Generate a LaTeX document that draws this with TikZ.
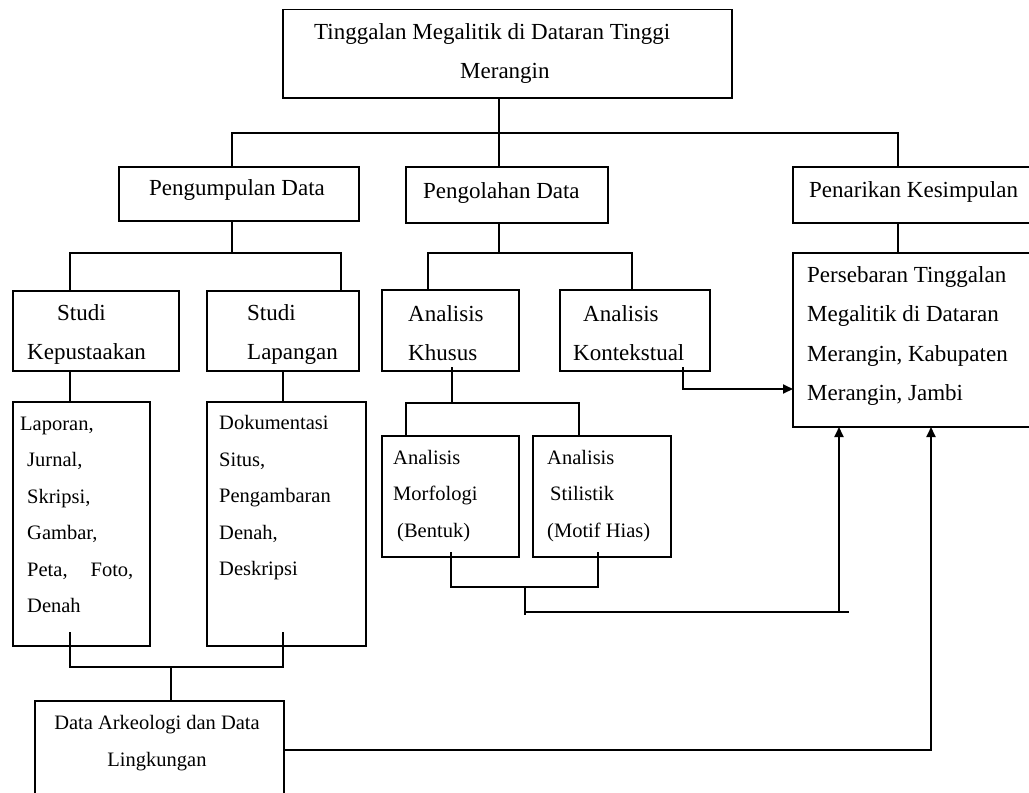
\documentclass[tikz,border=0pt]{standalone}
\usepackage{fontspec}
\setmainfont{Liberation Serif}
\usetikzlibrary{arrows.meta,calc}
\tikzset{
  box/.style={draw, line width=1.8pt, inner sep=0pt, outer sep=0pt, anchor=north west},
  conn/.style={line width=1.8pt},
  arr/.style={line width=1.8pt, -{Triangle[length=10pt,width=9pt]}},
  txt/.style={inner sep=0pt, anchor=north west, align=left, font=\fontsize{23}{39.5}\selectfont},
  smalltxt/.style={inner sep=0pt, anchor=north west, align=left, font=\fontsize{20.5}{36.5}\selectfont},
}
\begin{document}
\begin{tikzpicture}[x=1pt,y=-1pt]
\clip (0,0) rectangle (1029,793);
\fill[white] (0,0) rectangle (1029,793);

% boxes
\node[box, minimum width=449pt, minimum height=88.5pt] (top) at (283,9.5) {};
\node[box, minimum width=240pt, minimum height=54pt] (pd) at (119,167) {};
\node[box, minimum width=202pt, minimum height=56pt] (po) at (406,167) {};
\node[box, minimum width=252pt, minimum height=56pt] (pk) at (793,167) {};
\node[box, minimum width=252pt, minimum height=174pt] (ps) at (793,253) {};
\node[box, minimum width=166pt, minimum height=80pt] (sk) at (13,291) {};
\node[box, minimum width=152pt, minimum height=80pt] (sl) at (207,291) {};
\node[box, minimum width=137pt, minimum height=81pt] (ak) at (382,290) {};
\node[box, minimum width=150pt, minimum height=81pt] (ax) at (560,290) {};
\node[box, minimum width=137pt, minimum height=244pt] (lp) at (13,402) {};
\node[box, minimum width=159pt, minimum height=244pt] (dk) at (207,402) {};
\node[box, minimum width=137pt, minimum height=121pt] (am) at (382,436) {};
\node[box, minimum width=138pt, minimum height=121pt] (as) at (533,436) {};
\node[box, minimum width=249pt, minimum height=119pt] (da) at (35,701) {};

% texts
\node[txt] (t-top) at (314,11.35) {\strut Tinggalan Megalitik di Dataran Tinggi\\\hspace*{146pt}Merangin};
\node[txt] (t-pd) at (149,167.35) {\strut Pengumpulan Data};
\node[txt] (t-po) at (423,170.35) {\strut Pengolahan Data};
\node[txt] (t-pk) at (809,169.35) {\strut Penarikan Kesimpulan};
\node[txt] (t-ps) at (807,254.35) {\strut Persebaran Tinggalan\\Megalitik di Dataran\\Merangin, Kabupaten\\Merangin, Jambi};
\node[txt] (t-sk) at (27,292.35) {\strut\hspace*{30pt}Studi\\Kepustaakan};
\node[txt] (t-sl) at (247,292.35) {\strut Studi\\Lapangan};
\node[txt] (t-ak) at (408,293.35) {\strut Analisis\\Khusus};
\node[txt] (t-ax) at (573,293.35) {\strut\hspace*{10pt}Analisis\\Kontekstual};
\node[smalltxt] (t-lp) at (20,404.45) {\strut Laporan,\\\hspace*{7pt}Jurnal,\\\hspace*{7pt}Skripsi,\\\hspace*{7pt}Gambar,\\\hspace*{7pt}Peta,\hspace{23pt}Foto,\\\hspace*{7pt}Denah};
\node[smalltxt] (t-dk) at (219,404) {\strut Dokumentasi\\Situs,\\Pengambaran\\Denah,\\Deskripsi};
\node[smalltxt] (t-am) at (393,438.45) {\strut Analisis\\Morfologi\\\hspace*{4pt}(Bentuk)};
\node[smalltxt] (t-as) at (547,438.45) {\strut Analisis\\\hspace*{3pt}Stilistik\\(Motif Hias)};
\node[smalltxt, anchor=north, align=center, font=\fontsize{20.5}{37}\selectfont] (t-da) at (157,703.1) {\strut Data Arkeologi dan Data\\Lingkungan};

% junction coordinates
\coordinate (b1) at (499,133);
\coordinate (bL) at (232,133);
\coordinate (bR) at (898,133);
\coordinate (c1) at (232,253);
\coordinate (c2) at (70,253);
\coordinate (c3) at (341,253);
\coordinate (d1) at (499,253);
\coordinate (d2) at (428,253);
\coordinate (d3) at (632,253);
\coordinate (e1) at (898,240);
\coordinate (f1) at (70,390);
\coordinate (f2) at (283,390);
\coordinate (g2) at (70,667);
\coordinate (g3) at (283,667);
\coordinate (h1) at (171,667);
\coordinate (i1) at (452,403);
\coordinate (i2) at (406,403);
\coordinate (i3) at (579,403);
\coordinate (k1) at (451,587);
\coordinate (k2) at (598,587);
\coordinate (m1) at (525,587);
\coordinate (m2) at (525,612);
\coordinate (m3) at (849,612);
\coordinate (m4) at (839,612);
\coordinate (n1) at (683,389);
\coordinate (p1) at (931,750);

% connectors
\draw[conn] (top.south -| b1) -- (po.north -| b1);
\draw[conn] (pd.north -| bL) -- (bL) -- (bR) -- (pk.north -| bR);
\draw[conn] (pd.south -| c1) -- (c1);
\draw[conn] (sk.north -| c2) -- (c2) -- (c3) -- (sl.north -| c3);
\draw[conn] (po.south -| d1) -- (d1);
\draw[conn] (ak.north -| d2) -- (d2) -- (d3) -- (ax.north -| d3);
\draw[conn] (pk.south -| e1) -- (ps.north -| e1);
\draw[conn] (sk.south -| f1) -- (lp.north -| f1);
\draw[conn] (sl.south -| f2) -- (dk.north -| f2);
\draw[conn] ($(lp.south -| g2)+(0,-14)$) -- (g2) -- (g3) -- ($(dk.south -| g3)+(0,-14)$);
\draw[conn] (h1) -- (da.north -| h1);
\draw[conn] ($(ak.south -| i1)+(0,-4)$) -- (i1);
\draw[conn] (am.north -| i2) -- (i2) -- (i3) -- (as.north -| i3);
\draw[conn] ($(am.south -| k1)+(0,-5)$) -- (k1) -- (k2) -- ($(as.south -| k2)+(0,-5)$);
\draw[conn] (m1) -- ($(m2)+(0,3)$);
\draw[conn] (m2) -- (m3);
\draw[arr] (m4) -- (ps.south -| m4);
\draw[arr] ($(ax.south -| n1)+(0,-4)$) -- (n1) -- (ps.west |- n1);
\draw[arr] (da.east |- p1) -- (p1) -- (ps.south -| p1);
\end{tikzpicture}
\end{document}
